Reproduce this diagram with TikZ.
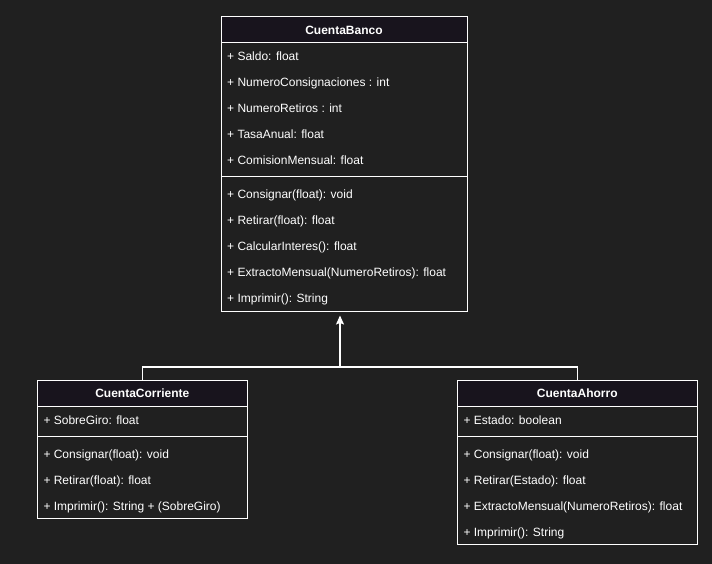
\documentclass[tikz,border=0pt]{standalone}
\usepackage{fontspec}
\setmainfont{Liberation Sans}
\usetikzlibrary{arrows.meta}
\definecolor{bg}{HTML}{202020}
\definecolor{hdr}{HTML}{18141D}
\tikzset{
  classbox/.style={draw=white, fill=bg, line width=1pt, anchor=north west, inner sep=0pt, outer sep=0pt},
  hdrbox/.style={draw=white, fill=hdr, line width=1pt, anchor=north west, inner sep=0pt, outer sep=0pt,
    minimum height=26, text=white, font=\fontsize{12}{14}\selectfont\bfseries},
  member/.style={anchor=base west, text=white, font=\fontsize{12}{14}\selectfont, inner sep=0pt, yshift=-4.3pt},
  sep/.style={draw=white, line width=1pt},
  inherit/.style={draw=white, line width=1.3pt},
}
\begin{document}
\begin{tikzpicture}[x=1pt,y=-1pt]
\fill[bg] (0,0) rectangle (712,564);
\useasboundingbox (0,0) rectangle (712,564);

% CuentaBanco
\node[classbox, minimum width=246, minimum height=294] (banco) at (221,17) {};
\node[hdrbox, minimum width=246] (bancoH) at (221,17) {CuentaBanco};
\draw[sep] (221,177) -- (467,177);
\node[member] (b1) at (227,56) {+ Saldo: float};
\node[member] (b2) at (227,82) {+ NumeroConsignaciones : int};
\node[member] (b3) at (227,108) {+ NumeroRetiros : int};
\node[member] (b4) at (227,134) {+ TasaAnual: float};
\node[member] (b5) at (227,160) {+ ComisionMensual: float};
\node[member] (b6) at (227,194) {+ Consignar(float): void};
\node[member] (b7) at (227,220) {+ Retirar(float): float};
\node[member] (b8) at (227,246) {+ CalcularInteres(): float};
\node[member] (b9) at (227,272) {+ ExtractoMensual(NumeroRetiros): float};
\node[member] (b10) at (227,298) {+ Imprimir(): String};

% CuentaCorriente
\node[classbox, minimum width=210, minimum height=138] (corr) at (37.3,380.3) {};
\node[hdrbox, minimum width=210] (corrH) at (37.3,380.3) {CuentaCorriente};
\draw[sep] (37.3,436.3) -- (247.3,436.3);
\node[member] (c1) at (43.3,420) {+ SobreGiro: float};
\node[member] (c2) at (43.3,454) {+ Consignar(float): void};
\node[member] (c3) at (43.3,480) {+ Retirar(float): float};
\node[member] (c4) at (43.3,506) {+ Imprimir(): String + (SobreGiro)};

% CuentaAhorro
\node[classbox, minimum width=240, minimum height=164] (ahorro) at (457.3,380.3) {};
\node[hdrbox, minimum width=240] (ahorroH) at (457.3,380.3) {CuentaAhorro};
\draw[sep] (457.3,436.3) -- (697.3,436.3);
\node[member] (a1) at (463.3,420) {+ Estado: boolean};
\node[member] (a2) at (463.3,454) {+ Consignar(float): void};
\node[member] (a3) at (463.3,480) {+ Retirar(Estado): float};
\node[member] (a4) at (463.3,506) {+ ExtractoMensual(NumeroRetiros): float};
\node[member] (a5) at (463.3,532) {+ Imprimir(): String};

% inheritance connectors
\coordinate (junc) at (340,367);
\draw[inherit] (corrH.north) |- (junc);
\draw[inherit] (ahorroH.north) |- (junc);
\draw[inherit, -{Stealth[length=9pt,width=8pt,inset=1.5pt]}, shorten >=4.5pt] (junc) -- (junc |- banco.south);
\end{tikzpicture}
\end{document}
